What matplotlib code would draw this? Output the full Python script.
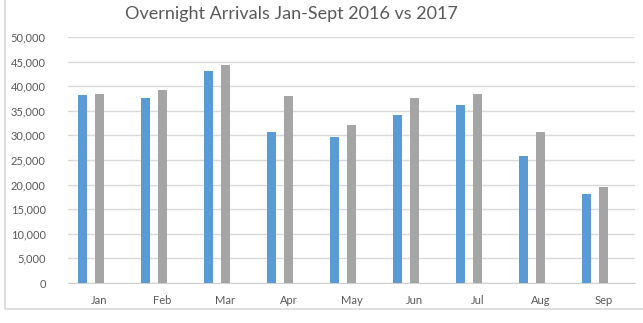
import matplotlib
matplotlib.use("Agg")
import matplotlib.pyplot as plt
from matplotlib.patches import Rectangle
from matplotlib.ticker import FuncFormatter
import numpy as np

months = ["Jan", "Feb", "Mar", "Apr", "May", "Jun", "Jul", "Aug", "Sep"]
arrivals_2016 = [38300, 37600, 43000, 30600, 29600, 34200, 36200, 25800, 18100]
arrivals_2017 = [38500, 39200, 44400, 38100, 32100, 37600, 38500, 30700, 19500]
y_ticks = list(range(0, 50001, 5000))

plt.rcParams["font.family"] = ["Lato", "DejaVu Sans"]

W, H = 643, 323
fig = plt.figure(figsize=(W / 100, H / 100), dpi=100)
fig.patch.set_facecolor("white")

# chart-area frame (left and bottom edges visible)
fig.patches.append(Rectangle((5 / W, (H - 309) / H), 1.2, 1.2,
                             transform=fig.transFigure, fill=False,
                             edgecolor="#d9d9d9", linewidth=1.2, zorder=0))

ax = fig.add_axes([68 / W, (H - 283) / H, (635 - 68) / W, (283 - 37) / H])
x = np.arange(len(months))
bw = 0.135
ax.bar(x - 0.27, arrivals_2016, width=bw, color="#5B9BD5", zorder=3)
ax.bar(x, arrivals_2017, width=bw, color="#A5A5A5", zorder=3)

ax.set_xlim(-0.5, len(months) - 0.5)
ax.set_ylim(0, 50000)
ax.set_yticks(y_ticks)
ax.yaxis.set_major_formatter(FuncFormatter(lambda v, p: f"{int(v):,}"))
ax.set_xticks(x)
ax.set_xticklabels(months)
ax.grid(axis="y", color="#d9d9d9", linewidth=1, zorder=0)
ax.set_axisbelow(True)
for s in ["top", "right", "left"]:
    ax.spines[s].set_visible(False)
ax.spines["bottom"].set_color("#d0d0d0")
ax.tick_params(axis="both", length=0, labelsize=8, colors="#595959")
ax.tick_params(axis="y", pad=16)
ax.tick_params(axis="x", pad=9)

fig.text(291 / W, (H - 14) / H, "Overnight Arrivals Jan-Sept 2016 vs 2017",
         ha="center", va="center", fontsize=13, color="#595959")

fig.savefig("out.png", dpi=100, facecolor="white")
